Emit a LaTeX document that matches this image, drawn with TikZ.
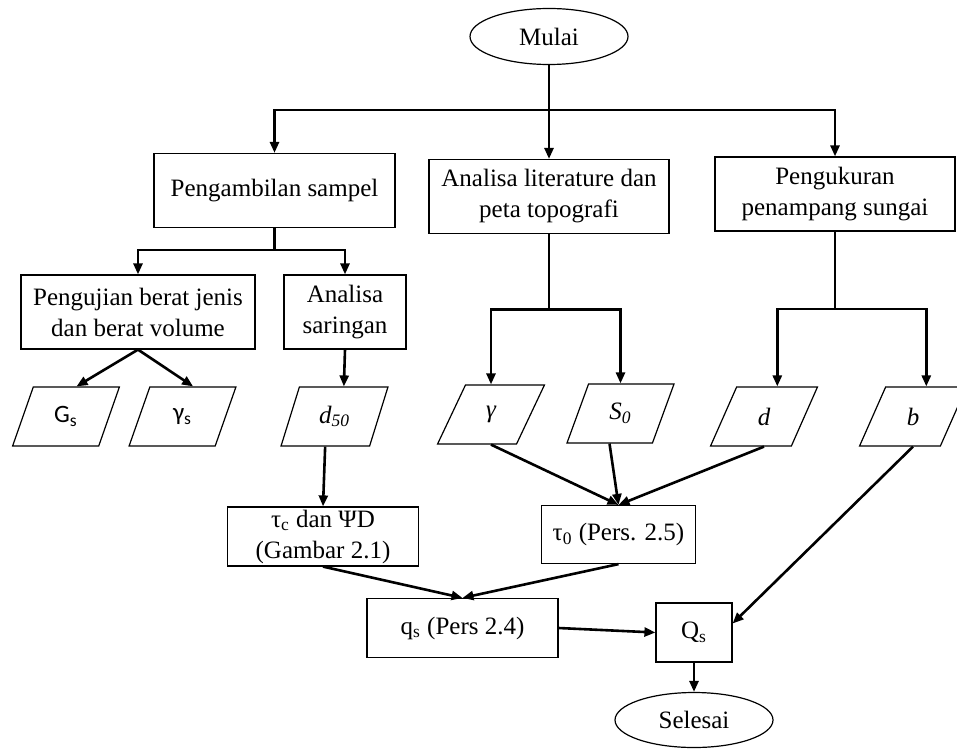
\documentclass[tikz,border=0pt]{standalone}
\usepackage{fontspec}
\setmainfont{Liberation Serif}
\newfontfamily\calibri{Carlito}
\usetikzlibrary{positioning,arrows.meta,shapes.geometric}

\begin{document}
\begin{tikzpicture}
    \begin{scope}[node distance=40pt, on grid, >={Triangle[width=4.5pt,length=5.5pt]}, 
    		font=\fontsize{12.5}{15.5}\selectfont, text centered, align=center,
    		block/.style={rectangle,draw,line width=0.6pt,minimum height=37pt,inner sep=1pt},
    		oval/.style={ellipse,draw,line width=0.6pt,minimum width=79pt,minimum height=28pt,inner sep=1pt},
    		data/.style={trapezium,trapezium left angle=70,trapezium right angle=110,
    			trapezium stretches=true,draw,line width=0.6pt,
    			minimum width=53.5pt,minimum height=29.5pt,inner sep=1pt},
    		arrow/.style={black, ->, line width=1.3pt},
    		line/.style={black, line width=1.3pt}]
    
    \useasboundingbox (0pt,0pt) rectangle (478.5pt,-374.5pt);
    
    \node[oval] (mulai) at (274.5pt,-18.25pt) {Mulai};
    \node[block,minimum width=120.5pt,below left=77pt and 137.25pt of mulai] (ambil)
    {Pengambilan sampel};
    \node[block,minimum width=120pt,below=80pt of mulai] (lit)
    {Analisa literature dan\\peta topografi};
    \node[block,minimum width=120pt,below right=78.75pt and 143pt of mulai] (ukur)
    {Pengukuran\\penampang sungai};
    \node[block,minimum width=117pt,below left=60.75pt and 68.25pt of ambil] (uji)
    {Pengujian berat jenis\\dan berat volume};
    \node[block,minimum width=61pt,below right=60.75pt and 35.25pt of ambil] (saring)
    {Analisa\\saringan};
    
    \node[data,below left=52.25pt and 36pt of uji] (Gs)
    {\calibri G\textsubscript{s}};
    \node[data,below right=52.25pt and 22.25pt of uji] (gs)
    {\calibri γ\textsubscript{s}};
    \node[data,below left=52.25pt and 5.25pt of saring] (d50)
    {\itshape d\textsubscript{50}};
    \node[data,below left=109pt and 29pt of lit] (gam)
    {\itshape γ};
    \node[data,below right=108.5pt and 35.75pt of lit] (S0)
    {\itshape S\textsubscript{0}};
    \node[data,below left=111.25pt and 35.5pt of ukur] (dd)
    {\itshape d};
    \node[data,below right=111.25pt and 39pt of ukur] (bb)
    {\itshape b};
    
    \node[block,minimum width=95.5pt,minimum height=29.5pt,below left=60pt and 5.75pt of d50] (tauc)
    {τ\textsubscript{c} dan ΨD\\(Gambar 2.1)};
    \node[block,minimum width=77pt,minimum height=29pt,below left=60.5pt and 1pt of S0] (tau0)
    {τ\textsubscript{0} (Pers. 2.5)};
    \node[block,minimum width=95.5pt,minimum height=29.5pt,below right=45.75pt and 69.75pt of tauc] (qs)
    {q\textsubscript{s} (Pers 2.4)};
    \node[block,minimum width=38pt,minimum height=29.5pt,below right=2.25pt and 115.75pt of qs] (Qs)
    {Q\textsubscript{s}};
    \node[oval,minimum height=27.5pt,below=43.75pt of Qs] (selesai) {Selesai};
    
    % split points
    \coordinate[below=36.75pt of mulai] (s1);
    \coordinate[below=29.75pt of ambil] (s2);
    \coordinate[below=56.5pt of lit] (s3);
    \coordinate[below=57.5pt of ukur] (s4);
    
    \draw[line] (mulai.south) -- (s1);
    \draw[arrow] (s1) -| (ambil.north);
    \draw[arrow] (s1) -| (ukur.north);
    \draw[arrow] (s1) -- (lit.north);
    
    \draw[line] (ambil.south) -- (s2);
    \draw[arrow] (s2) -| (uji.north);
    \draw[arrow] (s2) -| (saring.north);
    
    \draw[line] (lit.south) -- (s3);
    \draw[arrow] (s3) -| (gam.north);
    \draw[arrow] (s3) -| (S0.north);
    
    \draw[line] (ukur.south) -- (s4);
    \draw[arrow] (s4) -| (dd.top side);
    \draw[arrow] (s4) -| (bb.top side);
    
    \draw[line]
    (uji.south) edge[->] (Gs.top side)
    (uji.south) edge[->] (gs.top side)
    (saring.south) edge[->] (d50.top side)
    (d50.bottom side) edge[->] (tauc.north)
    (gam.south) edge[->] (tau0.north)
    (S0.bottom side) edge[->] (tau0.north)
    (dd.south) edge[->] (tau0.north)
    (tauc.south) edge[->] (qs.north)
    (tau0.south) edge[->] (qs.north)
    (qs.east) edge[->] (Qs.west)
    (bb.south) edge[->] ([yshift=4.5pt]Qs.east)
    (Qs.south) edge[->] (selesai.north);
    
    \end{scope} 
\end{tikzpicture}
\end{document}
